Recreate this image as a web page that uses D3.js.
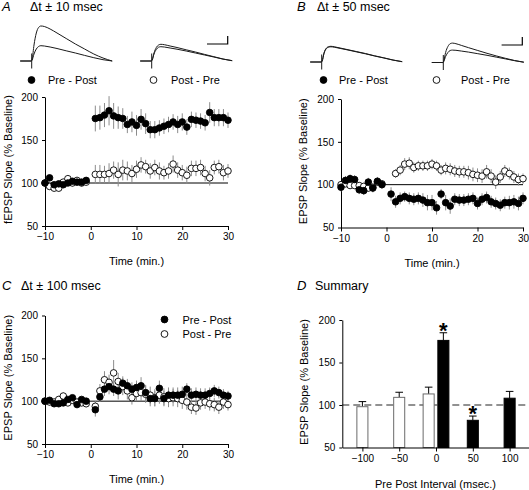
<!DOCTYPE html>
<html><head><meta charset="utf-8">
<script src="https://cdn.jsdelivr.net/npm/d3@7"></script>
<style>
body{margin:0;background:#fff}
svg{display:block}
text{font-family:Arial,"Liberation Sans",Helvetica,sans-serif;fill:#000}
</style>
</head><body>
<svg id="c" width="529" height="490"></svg>
<script>
// ---------- DATA ----------
const minutes = [-10,-9,-8,-7,-6,-5,-4,-3,-2,-1,1,2,3,4,5,6,7,8,9,10,11,12,13,14,15,16,17,18,19,20,21,22,23,24,25,26,27,28,29,30];
const timeTicks = [-10,0,10,20,30];
const slopeTicks = [50,100,150,200];

// Panel A (dt ± 10 msec)
const aPrePost = [100,106,98,99,98,100,102,101,101,103, 175,176,179,184,178,176,175,168,171,167,174,169,162,162,164,166,168,171,168,171,165,174,173,172,170,182,176,176,176,173];
const aPrePostErr = [3,3,3,3,3,3,3,3,3,3, 15,14,14,17,15,13,12,10,12,12,12,12,10,10,9,9,9,9,10,10,9,9,9,9,9,12,10,10,10,9];
const aPostPre = [100,96,94,94,101,105,100,103,100,101, 110,110,110,111,115,110,115,114,111,116,121,119,114,118,114,112,114,122,115,112,109,117,117,118,111,106,118,119,112,114];
const aPostPreErr = [4,4,4,4,4,4,4,4,4,4, 11,11,10,12,10,14,12,11,10,10,9,8,9,9,10,8,9,10,9,9,10,9,9,9,9,9,8,8,9,8];

// Panel B (dt ± 50 msec)
const bPrePost = [97,105,107,106,94,93,103,96,104,100, 89,80,84,86,84,83,84,82,79,79,73,89,79,75,83,82,82,83,84,78,83,85,80,78,76,79,79,80,78,84];
const bPrePostErr = [5,5,5,5,5,5,5,5,5,5, 8,7,7,6,7,7,7,8,9,9,8,6,9,9,7,7,7,7,7,7,7,7,7,7,7,7,8,8,8,7];
const bPostPre = [100,101,99,99,99,98,96,97,103,101, null,113,117,124,125,120,122,122,122,124,122,117,119,118,116,115,115,114,112,111,110,115,110,103,109,116,113,109,106,107];
const bPostPreErr = [4,4,4,4,4,4,4,4,4,4, null,5,6,7,7,6,6,6,6,6,6,6,7,7,7,7,7,8,8,8,8,8,8,8,7,7,7,7,7,6];

// Panel C (dt ± 100 msec)
const cPrePost = [100,101,97,97,98,102,104,96,102,100, 90,105,114,117,114,112,121,118,114,116,118,110,103,103,115,103,107,107,107,108,114,107,108,107,107,109,112,110,107,106];
const cPrePostErr = [3,3,3,3,3,3,3,3,3,3, 8,6,8,9,8,10,8,8,8,8,10,9,9,9,9,9,9,9,9,9,7,8,8,8,8,7,7,7,7,6];
const cPostPre = [100,99,99,102,106,98,101,99,98,97, 94,112,125,122,133,123,117,112,104,109,110,108,107,104,107,105,103,104,103,101,99,93,92,98,99,97,96,93,99,96];
const cPostPreErr = [4,4,4,4,4,4,4,4,4,4, 6,8,10,9,15,10,10,10,8,9,10,10,10,10,10,10,10,10,10,10,9,8,8,8,8,8,8,8,8,7];

// Panel D (summary)
const dIntervals = [-100,-50,-10,10,50,100];
const dValues = [98,109,113,176,82,108];
const dErrors = [6,6,8,9,5,8];
const dGroups = ["Post - Pre","Post - Pre","Post - Pre","Pre - Post","Pre - Post","Pre - Post"];
const dSignificant = [false,false,false,true,true,false];
const dTicks = [-100,-50,0,50,100];

// Inset EPSP traces (time rel. to stimulus, ms ; amplitude, arbitrary mV units)
const traceTime = [-5,-0.2,0.2,1,2,3,4,5.5,8,11,15,19,23,27,31,35];
const traceA_pp_after  = [0,0,0.2,1.6,2.8,3.35,3.5,3.45,3.2,2.8,2.25,1.7,1.2,0.7,0.3,0];
const traceA_pp_before = [0,0,0.1,0.7,1.2,1.45,1.53,1.5,1.4,1.25,1.02,0.8,0.56,0.33,0.13,0];
const traceA_ppr_1 = [0,0,0.1,0.8,1.35,1.6,1.67,1.63,1.5,1.35,1.12,0.9,0.66,0.43,0.2,0.03];
const traceA_ppr_2 = [0,0,0.1,0.7,1.15,1.38,1.43,1.4,1.3,1.18,1.0,0.8,0.6,0.4,0.19,0.03];
const traceB_pp_1 = [0,0,0.1,0.9,1.38,1.53,1.57,1.52,1.4,1.25,1.05,0.85,0.62,0.42,0.2,0.03];
const traceB_pp_2 = [0,0,0.1,0.85,1.33,1.48,1.52,1.48,1.36,1.22,1.02,0.82,0.6,0.4,0.19,0.03];
const traceB_ppr_1 = [0,0,0.15,1.0,1.6,1.88,1.94,1.88,1.7,1.48,1.2,0.92,0.66,0.42,0.2,0.03];
const traceB_ppr_2 = [0,0,0.1,0.6,1.0,1.2,1.24,1.22,1.14,1.04,0.88,0.72,0.54,0.36,0.18,0.03];
const scaleBar = [9, 0.8]; // ms, mV

// ---------- DRAW ----------
const svg = d3.select("#c");
const FONT = 'Arial,"Liberation Sans",Helvetica,sans-serif';

function txt(x, y, s, size, opts = {}) {
  const t = svg.append("text").attr("x", x).attr("y", y).text(s)
    .attr("font-size", size);
  if (opts.anchor) t.attr("text-anchor", opts.anchor);
  if (opts.italic) t.attr("font-style", "italic");
  if (opts.bold) t.attr("font-weight", "bold");
  if (opts.rotate) t.attr("transform", `rotate(-90,${x},${y})`);
  return t;
}

function styleAxis(g) {
  g.selectAll("path.domain").attr("stroke", "#000").attr("stroke-width", 1);
  g.selectAll(".tick line").attr("stroke", "#000");
  g.selectAll(".tick text").attr("font-size", 10).attr("font-family", FONT).attr("fill", "#000");
}

function timePanel(cfg) {
  const x = d3.scaleLinear().domain([-10, 30]).range(cfg.xr);
  const y = d3.scaleLinear().domain([50, 200]).range(cfg.yr);
  const gx = svg.append("g").attr("transform", `translate(0,${cfg.yr[0]})`)
    .call(d3.axisBottom(x).tickValues(timeTicks).tickSize(4).tickSizeOuter(0).tickPadding(3));
  styleAxis(gx);
  const gy = svg.append("g").attr("transform", `translate(${cfg.xr[0]},0)`)
    .call(d3.axisLeft(y).tickValues(slopeTicks).tickSize(3).tickSizeOuter(0).tickPadding(4));
  styleAxis(gy);
  // reference line at 100 %
  svg.append("line").attr("x1", x(-10)).attr("x2", x(30)).attr("y1", y(100)).attr("y2", y(100))
    .attr("stroke", "#000").attr("stroke-width", 1);
  const series = [
    {vals: cfg.open, err: cfg.openErr, fill: "#fff"},
    {vals: cfg.filled, err: cfg.filledErr, fill: "#000"}
  ];
  series.forEach(s => {
    const pts = minutes.map((m, i) => ({m, v: s.vals[i], e: s.err[i]})).filter(d => d.v != null);
    svg.append("g").selectAll("line").data(pts).join("line")
      .attr("x1", d => x(d.m)).attr("x2", d => x(d.m))
      .attr("y1", d => y(d.v - d.e)).attr("y2", d => y(d.v + d.e))
      .attr("stroke", "#8c8c8c").attr("stroke-width", 1);
  });
  series.forEach(s => {
    const pts = minutes.map((m, i) => ({m, v: s.vals[i]})).filter(d => d.v != null);
    svg.append("g").selectAll("circle").data(pts).join("circle")
      .attr("cx", d => x(d.m)).attr("cy", d => y(d.v)).attr("r", 3.3)
      .attr("fill", s.fill).attr("stroke", "#000").attr("stroke-width", 0.9);
  });
  // titles
  txt(cfg.ylabX, (cfg.yr[0] + cfg.yr[1]) / 2 - 2, cfg.ylab, 11, {anchor: "middle", rotate: true});
  txt((cfg.xr[0] + cfg.xr[1]) / 2, cfg.yr[0] + 39, "Time  (min.)", 11, {anchor: "middle"});
}

timePanel({xr: [45, 228], yr: [226, 97], filled: aPrePost, filledErr: aPrePostErr,
  open: aPostPre, openErr: aPostPreErr, ylab: "fEPSP Slope  (% Baseline)", ylabX: 11.5});
timePanel({xr: [341, 523], yr: [227.5, 99], filled: bPrePost, filledErr: bPrePostErr,
  open: bPostPre, openErr: bPostPreErr, ylab: "EPSP Slope  (% Baseline)", ylabX: 306.5});
timePanel({xr: [45, 228], yr: [444, 315.5], filled: cPrePost, filledErr: cPrePostErr,
  open: cPostPre, openErr: cPostPreErr, ylab: "EPSP Slope  (% Baseline)", ylabX: 11.5});

// headings
txt(2, 11, "A", 13, {italic: true}); txt(30, 11, "\u0394t \u00b1 10 msec", 12.5);
txt(297, 11, "B", 13, {italic: true}); txt(317, 11, "\u0394t \u00b1 50 msec", 12.5);
txt(2, 290, "C", 13, {italic: true}); txt(21, 290, "\u0394t \u00b1 100 msec", 12.5);
txt(297, 290, "D", 13, {italic: true}); txt(315, 290, "Summary", 12.5);

// legends
function legendItem(cx, cy, filled, label, tx) {
  svg.append("circle").attr("cx", cx).attr("cy", cy).attr("r", 3.4)
    .attr("fill", filled ? "#000" : "#fff").attr("stroke", "#000").attr("stroke-width", 0.9);
  txt(tx, cy + 4, label, 11);
}
legendItem(31.5, 80, true, "Pre - Post", 48);
legendItem(153.5, 80, false, "Post - Pre", 171);
legendItem(323.5, 80, true, "Pre - Post", 339);
legendItem(436.5, 80, false, "Post - Pre", 461);
legendItem(164.5, 319.5, true, "Pre - Post", 182.5);
legendItem(164.5, 334, false, "Post - Pre", 182.5);

// inset traces
function inset(stimX, baseY, traces) {
  const tx = d3.scaleLinear().domain([0, 1]).range([stimX, stimX + 2.3]);
  const ty = d3.scaleLinear().domain([0, 1]).range([baseY, baseY - 10]);
  const line = d3.line().x((d, i) => tx(traceTime[i])).y(d => ty(d)).curve(d3.curveMonotoneX);
  traces.forEach(tr => {
    svg.append("path").attr("d", line(tr)).attr("fill", "none")
      .attr("stroke", "#1a1a1a").attr("stroke-width", 1);
  });
  svg.append("line").attr("x1", tx(0)).attr("x2", tx(0)).attr("y1", ty(-0.75)).attr("y2", ty(0.75))
    .attr("stroke", "#1a1a1a").attr("stroke-width", 1);
  return {tx, ty};
}
inset(31.7, 61, [traceA_pp_after, traceA_pp_before]);
inset(151.7, 61, [traceA_ppr_1, traceA_ppr_2]);
inset(321.7, 62, [traceB_pp_1, traceB_pp_2]);
inset(443.3, 62.5, [traceB_ppr_1, traceB_ppr_2]);

function drawScaleBar(xEnd, yBar) {
  const sx = d3.scaleLinear().domain([0, 1]).range([0, 2.3]);
  const sy = d3.scaleLinear().domain([0, 1]).range([0, 10]);
  svg.append("path").attr("fill", "none").attr("stroke", "#000").attr("stroke-width", 1.2)
    .attr("d", `M${xEnd - sx(scaleBar[0])},${yBar}H${xEnd}V${yBar - sy(scaleBar[1])}`);
}
drawScaleBar(227.7, 44);
drawScaleBar(522.3, 45);

// Panel D
(function () {
  const x = d3.scaleLinear().domain([-127.3, 127]).range([342.3, 529.5]);
  const y = d3.scaleLinear().domain([50, 200]).range([447.5, 320]);
  const bw = x(15) - x(0);
  // dashed reference line
  svg.append("line").attr("x1", x.range()[0]).attr("x2", x.range()[1]).attr("y1", y(100)).attr("y2", y(100))
    .attr("stroke", "#6e6e6e").attr("stroke-width", 1.6).attr("stroke-dasharray", "7,4");
  const data = dIntervals.map((iv, i) => ({iv, v: dValues[i], e: dErrors[i], g: dGroups[i], s: dSignificant[i]}));
  // error bars (upper)
  data.forEach(d => {
    const cx = x(d.iv);
    svg.append("path").attr("fill", "none").attr("stroke", "#000").attr("stroke-width", 1)
      .attr("d", `M${cx},${y(d.v)}V${y(d.v + d.e)}M${cx - 3.8},${y(d.v + d.e)}H${cx + 3.8}`);
  });
  svg.append("g").selectAll("rect").data(data).join("rect")
    .attr("x", d => x(d.iv) - bw / 2).attr("width", bw)
    .attr("y", d => y(d.v)).attr("height", d => y(50) - y(d.v))
    .attr("fill", d => d.g === "Pre - Post" ? "#000" : "#fff")
    .attr("stroke", d => d.g === "Pre - Post" ? "#000" : "#6a6a6a").attr("stroke-width", 1);
  data.filter(d => d.s).forEach(d => {
    txt(x(d.iv), y(d.v + d.e) + 5, "*", 22, {anchor: "middle", bold: true});
  });
  const gx = svg.append("g").attr("transform", `translate(0,${y(50)})`)
    .call(d3.axisBottom(x).tickValues(dTicks).tickSize(4).tickSizeOuter(0).tickPadding(3));
  styleAxis(gx);
  const gy = svg.append("g").attr("transform", `translate(${x.range()[0]},0)`)
    .call(d3.axisLeft(y).tickValues(slopeTicks).tickSize(3).tickSizeOuter(0).tickPadding(4));
  styleAxis(gy);
  txt(307.5, 382, "EPSP Slope  (% Baseline)", 11, {anchor: "middle", rotate: true});
  txt(435.5, 488, "Pre Post Interval (msec.)", 11, {anchor: "middle"});
})();
</script>
</body></html>
